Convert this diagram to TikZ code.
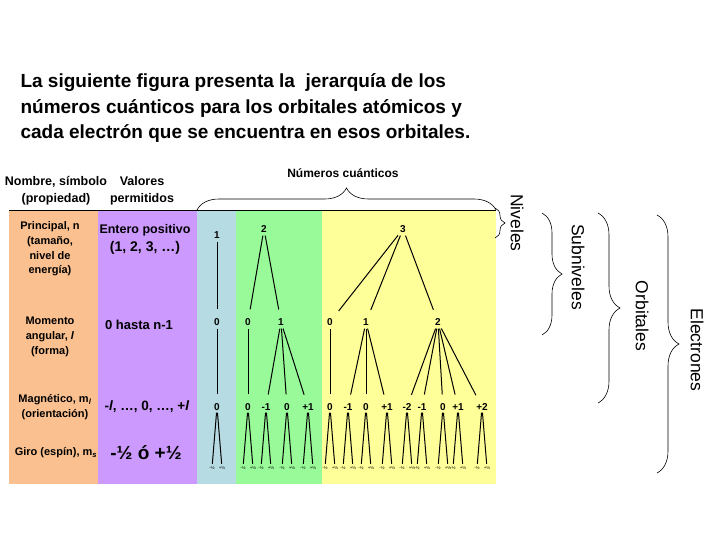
\documentclass[tikz,border=0pt]{standalone}
\usepackage{fontspec}
\setmainfont{Liberation Sans}
\usetikzlibrary{decorations.pathreplacing, positioning}

\definecolor{panelorange}{RGB}{250,192,143}
\definecolor{panelpurple}{RGB}{204,153,255}
\definecolor{panelblue}{RGB}{183,219,226}
\definecolor{panelgreen}{RGB}{153,250,153}
\definecolor{panelyellow}{RGB}{255,255,153}

\begin{document}
\begin{tikzpicture}[x=1pt, y=-1pt,
    titleline/.style={anchor=base west, font=\bfseries\fontsize{19}{22}\selectfont},
    colhead/.style={align=center, font=\bfseries\fontsize{12.5}{17}\selectfont},
    property/.style={align=center, font=\bfseries\fontsize{11}{14.7}\selectfont},
    allowed/.style={align=center, font=\bfseries\fontsize{13.5}{18}\selectfont},
    qnum/.style={font=\bfseries\fontsize{10}{12}\selectfont, inner sep=1pt},
    spinval/.style={font=\fontsize{4.5}{5}\selectfont, inner sep=0.5pt},
    branch/.style={line width=1pt, shorten <=2pt, shorten >=8pt},
    spinline/.style={line width=1pt, shorten <=1pt, shorten >=2pt},
    bracelabel/.style={rotate=-90, font=\fontsize{17.5}{20}\selectfont},
    curly/.style={decorate, decoration={brace, amplitude=#1}, line width=0.6pt}]

    \useasboundingbox (0,0) rectangle (728,546);
    \fill[white] (0,0) rectangle (728,546);

    % Title
    \node[titleline] (title1) at (17,87) {La siguiente figura presenta la \ jerarquía de los};
    \node[titleline] (title2) at (17,113) {números cuánticos para los orbitales atómicos y};
    \node[titleline] (title3) at (17,138) {cada electrón que se encuentra en esos orbitales.};

    % Panels
    \fill[panelorange] (9,210) rectangle (98,484);
    \fill[panelpurple] (98,210) rectangle (197,484);
    \fill[panelblue] (197,210) rectangle (236,484);
    \fill[panelgreen] (236,210) rectangle (322,484);
    \fill[panelyellow] (322,210) rectangle (496,484);
    \draw[line width=0.8pt] (9,210) -- (496,210);

    % Column heads
    \node[colhead] (namehead) at (56,191) {Nombre, símbolo\\(propiedad)};
    \node[colhead] (valuehead) at (142,191) {Valores\\permitidos};

    % Properties
    \node[property] (principal) at (50,249) {Principal, n\\(tamaño,\\nivel de\\energía)};
    \node[property] (angular) at (50,337) {Momento\\angular, \textit{l}\\(forma)};
    \node[property] (magnetic) at (55,407) {Magnético, m\textsubscript{\textit{l}}\\(orientación)};
    \node[property] (spinprop) at (56,453) {Giro (espín), m\textsubscript{\textit{s}}};

    % Allowed values
    \node[allowed, font=\bfseries\fontsize{12.5}{18}\selectfont] (nvalues) at (145,239)
      {Entero positivo\\\fontsize{14}{18}\selectfont(1, 2, 3, …)};
    \node[allowed, font=\bfseries\fontsize{13}{18}\selectfont] (lvalues) at (139,325) {0 hasta n-1};
    \node[allowed] (mvalues) at (147,407) {-\textit{l}, …, 0, …, +\textit{l}};
    \node[allowed, font=\bfseries\fontsize{19}{22}\selectfont] (svalues) at (146,453) {-½ ó +½};

    % Principal number
    \node[qnum] (n1) at (217,235) {1};
    \node[qnum] (n2) at (264,229) {2};
    \node[qnum] (n3) at (403,229) {3};

    % Angular momentum
    \foreach \name/\x/\p/\lab in {l10/217/n1/0, l20/248/n2/0, l21/281/n2/1,
        l30/330/n3/0, l31/366/n3/1, l32/438/n3/2} {
      \node[qnum] (\name) at (\x,322) {\lab};
      \draw[branch] (\p) -- (\name);
    }

    % Magnetic number and spin
    \foreach \name/\x/\p/\lab in {m1/217/l10/0, m2/248/l20/0, m3/266/l21/-1,
        m4/287/l21/0, m5/308/l21/+1, m6/330/l30/0, m7/348/l31/-1, m8/366/l31/0,
        m9/387/l31/+1, m10/407/l32/-2, m11/422/l32/-1, m12/443/l32/0,
        m13/458/l32/+1, m14/482/l32/+2} {
      \node[qnum] (\name) at (\x,407) {\lab};
      \draw[branch] (\p) -- (\name);
      \node[spinval] (\name-dn) at (\x-5,468) {-½};
      \node[spinval] (\name-up) at (\x+5,468) {+½};
      \draw[spinline] (\name) -- (\name-dn);
      \draw[spinline] (\name) -- (\name-up);
    }

    % Braces
    \draw[curly=22] (197,210) -- (496,210);
    \node[font=\bfseries\fontsize{12}{14}\selectfont] (qnumbers) at (343,173) {Números cuánticos};
    \draw[curly=10] (495,208) -- (495,238);
    \node[bracelabel] (levels) at (517,223) {Niveles};
    \draw[curly=20] (542,213) -- (542,335);
    \node[bracelabel] (sublevels) at (578,267) {Subniveles};
    \draw[curly=22] (598,213) -- (598,403);
    \node[bracelabel] (orbitals) at (642,316) {Orbitales};
    \draw[curly=22] (657,215) -- (657,473);
    \node[bracelabel] (electrons) at (697,350) {Electrones};
\end{tikzpicture}
\end{document}
